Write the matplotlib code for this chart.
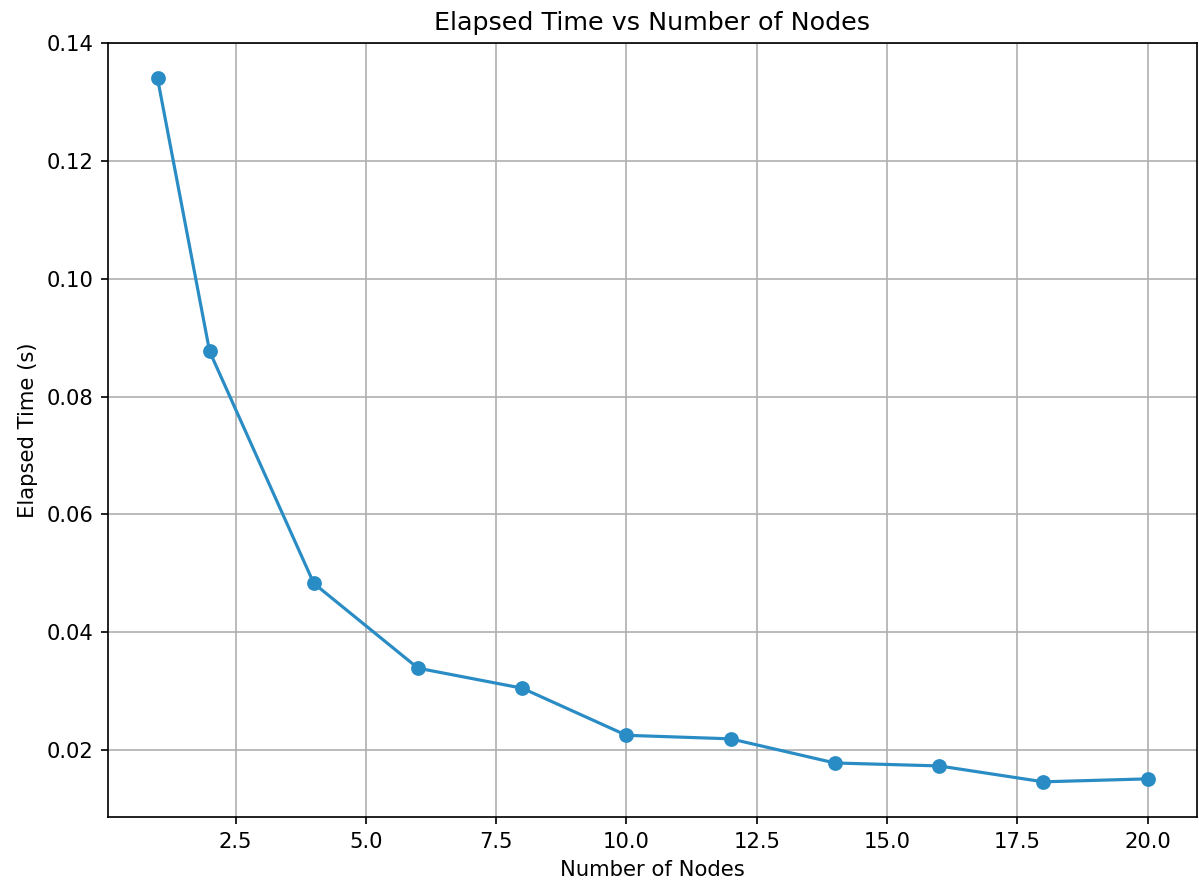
import matplotlib
matplotlib.use("Agg")
import matplotlib.pyplot as plt

nodes = [1, 2, 4, 6, 8, 10, 12, 14, 16, 18, 20]
elapsed = [0.1341, 0.0877, 0.0483, 0.0339, 0.0305, 0.0225, 0.0219, 0.0178, 0.0173, 0.0146, 0.0151]

W, H = 1199, 884
DPI = 152
fig = plt.figure(figsize=(W / DPI, H / DPI), dpi=DPI)
ax = fig.add_axes([108 / W, 1 - 817 / H, (1197 - 108) / W, (817 - 43) / H])
ax.plot(nodes, elapsed, marker='o', color='#2a8cc4')
ax.set_title('Elapsed Time vs Number of Nodes')
ax.set_xlabel('Number of Nodes')
ax.set_ylabel('Elapsed Time (s)')
ax.grid(True)
fig.savefig('out.png', dpi=DPI)
